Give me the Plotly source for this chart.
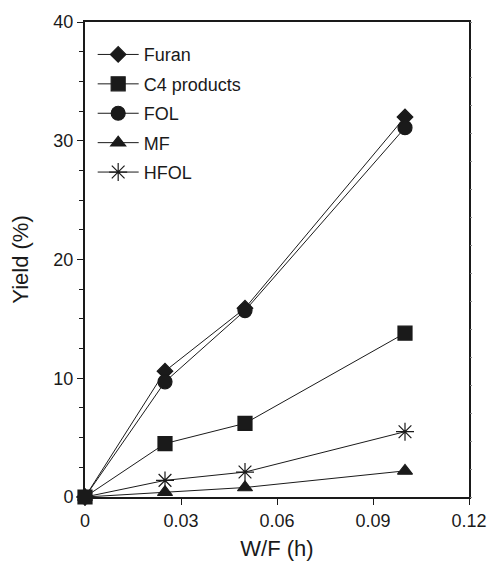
import plotly.graph_objects as go

wf = [0, 0.025, 0.05, 0.1]
furan = [0, 10.6, 15.9, 32.0]
c4 = [0, 4.5, 6.2, 13.8]
fol = [0, 9.7, 15.7, 31.1]
mf = [0, 0.4, 0.8, 2.2]
hfol = [0, 1.4, 2.1, 5.5]

names = ["Furan", "C4 products", "FOL", "MF", "HFOL"]
series = [furan, c4, fol, mf, hfol]
symbols = ["diamond", "square", "circle", "triangle-up", "asterisk-open"]
sizes = [12, 14, 14, 13, 15]
draw_order = [0, 2, 3, 4, 1]  # square drawn last (on top at origin)

fig = go.Figure()
for i in draw_order:
    n, s, sym, sz = names[i], series[i], symbols[i], sizes[i]
    fig.add_trace(go.Scatter(
        x=wf, y=s, name=n, mode="lines+markers",
        line=dict(color="#1a1a1a", width=1),
        marker=dict(symbol=sym, size=sz, color="#1a1a1a",
                    line=dict(color="#1a1a1a", width=1.2)),
        legendgroup=n, legendrank=i + 1, cliponaxis=False,
    ))

# invisible trace to carry the right-hand axis fine ticks
fig.add_trace(go.Scatter(x=[None], y=[None], yaxis="y2", showlegend=False, hoverinfo="skip"))

font_family = "Liberation Sans, Arial, sans-serif"
fig.update_layout(
    width=488, height=561,
    margin=dict(l=85, r=19, t=22, b=64),
    paper_bgcolor="white", plot_bgcolor="white",
    font=dict(family=font_family, color="#1a1a1a"),
    showlegend=True,
    legend=dict(x=0.02, y=0.97, xanchor="left", yanchor="top",
                font=dict(size=18, family=font_family, color="#1a1a1a"),
                bgcolor="rgba(0,0,0,0)", borderwidth=0,
                tracegroupgap=3, itemwidth=41, traceorder="grouped"),
    xaxis=dict(range=[0, 0.12], tickvals=[0, 0.03, 0.06, 0.09, 0.12],
               ticktext=["0", "0.03", "0.06", "0.09", "0.12"],
               ticks="outside", ticklen=6, tickwidth=1, tickcolor="#1a1a1a",
               showline=True, linewidth=2, linecolor="#1a1a1a", mirror=True,
               showgrid=False, zeroline=False, automargin=False,
               tickfont=dict(size=18),
               title=dict(text="W/F (h)", font=dict(size=22), standoff=15)),
    yaxis=dict(range=[0, 40], tickvals=[0, 10, 20, 30, 40],
               ticks="outside", ticklen=6, tickwidth=1, tickcolor="#1a1a1a",
               minor=dict(dtick=2.5, ticks="outside", ticklen=4, tickcolor="#1a1a1a", showgrid=False),
               showline=True, linewidth=2, linecolor="#1a1a1a", mirror=True,
               showgrid=False, zeroline=False, automargin=False,
               tickfont=dict(size=18),
               title=dict(text="Yield (%)", font=dict(size=22), standoff=19)),
    yaxis2=dict(range=[0, 17], dtick=1, overlaying="y", side="right",
                ticks="outside", ticklen=2, tickwidth=1, tickcolor="#888888",
                showticklabels=False, showgrid=False, zeroline=False, showline=False,
                automargin=False),
)

fig.write_html("out.html")
